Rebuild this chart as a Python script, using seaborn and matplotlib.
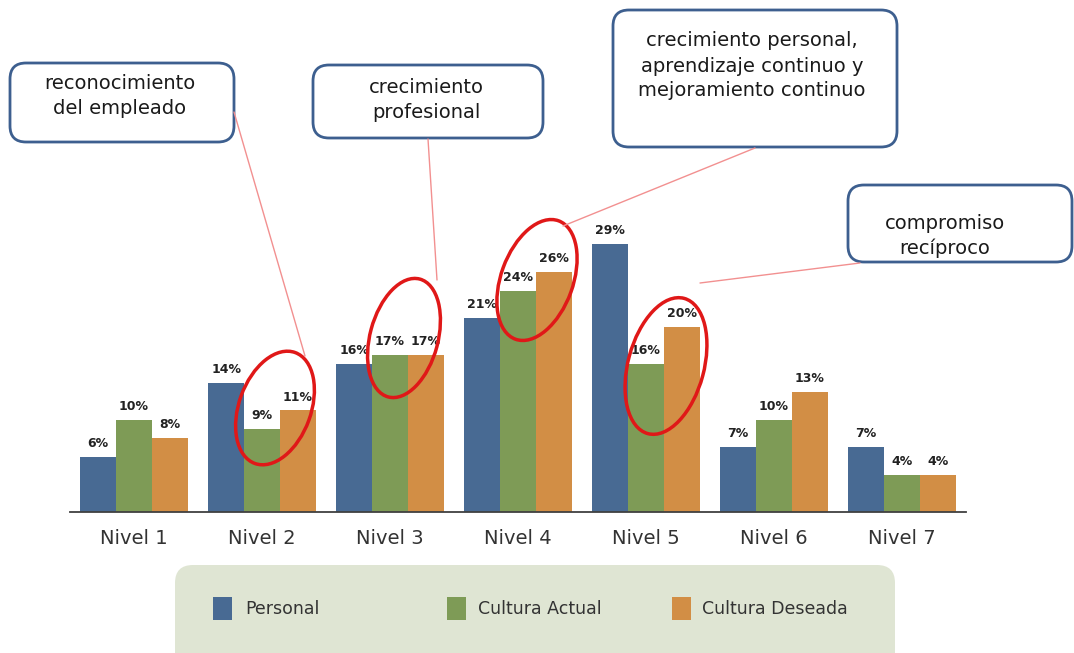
import matplotlib
matplotlib.use("Agg")
import matplotlib.pyplot as plt
from matplotlib.patches import FancyBboxPatch, Ellipse
import numpy as np
import pandas as pd
import seaborn as sns

# chart data
niveles = ["Nivel 1", "Nivel 2", "Nivel 3", "Nivel 4", "Nivel 5", "Nivel 6", "Nivel 7"]
personal = [6, 14, 16, 21, 29, 7, 7]
cultura_actual = [10, 9, 17, 24, 16, 10, 4]
cultura_deseada = [8, 11, 17, 26, 20, 13, 4]
series = ["Personal", "Cultura Actual", "Cultura Deseada"]
colores = ["#486a93", "#7e9b56", "#d28e45"]

callouts = ["reconocimiento\ndel empleado", "crecimiento\nprofesional",
            "crecimiento personal,\naprendizaje continuo y\nmejoramiento continuo",
            "compromiso\nrecíproco"]

df = pd.DataFrame({
    "nivel": niveles * 3,
    "serie": [s for s in series for _ in niveles],
    "valor": personal + cultura_actual + cultura_deseada,
})

sns.set_style("white")
plt.rcParams["font.family"] = ["DejaVu Sans"]

W, H = 1074, 653
fig = plt.figure(figsize=(W / 100, H / 100), dpi=100)
ax = fig.add_axes([70 / W, 141 / H, 896 / W, 323 / H])

sns.barplot(data=df, x="nivel", y="valor", hue="serie", palette=colores,
            width=0.84, gap=0, saturation=1, linewidth=0, ax=ax, legend=False)

for cont in ax.containers:
    ax.bar_label(cont, fmt="%d%%", padding=5, fontsize=9, fontweight="bold",
                 color="#222222")

ax.set_xlim(-0.5, 6.5)
ax.set_ylim(0, 35)
ax.set_xlabel("")
ax.set_ylabel("")
ax.set_yticks([])
for s in ["top", "right", "left"]:
    ax.spines[s].set_visible(False)
ax.spines["bottom"].set_color("#404040")
ax.spines["bottom"].set_linewidth(1.3)
ax.tick_params(axis="x", which="major", length=0, pad=12, labelsize=14, labelcolor="#333333")
ax.set_xticks(np.arange(-0.5, 7, 1), minor=True)
ax.tick_params(axis="x", which="minor", length=4, width=1, color="#404040", direction="out")

# overlay in pixel coordinates for callouts and legend
ov = fig.add_axes([0, 0, 1, 1], zorder=5)
ov.set_xlim(0, W)
ov.set_ylim(H, 0)
ov.axis("off")
ov.patch.set_alpha(0)

# pink connector lines
lineas = [((234, 112), (305, 356)), ((428, 139), (437, 280)),
          ((755, 148), (563, 226)), ((860, 263), (700, 283))]
for (x0, y0), (x1, y1) in lineas:
    ov.plot([x0, x1], [y0, y1], color="#f29090", lw=1)

# callout boxes
cajas = [(10, 63, 224, 79, 120, 96), (313, 65, 230, 73, 426, 100),
         (613, 10, 284, 137, 752, 66), (848, 185, 224, 77, 945, 236)]
for (x, y, w, h, tx, ty), txt in zip(cajas, callouts):
    ov.add_patch(FancyBboxPatch((x + 12, y + 12), w - 24, h - 24,
                                boxstyle="round,pad=12,rounding_size=16",
                                fc="white", ec="#3d5f8f", lw=2))
    ov.text(tx, ty, txt, ha="center", va="center", fontsize=14,
            color="#1a1a1a", linespacing=1.4)

# red ellipses
elipses = [(275, 408, 72, 118, 20), (404, 338, 68, 122, 15),
           (537, 280, 72, 126, 20), (666, 366, 76, 140, 15)]
for cx, cy, w, h, ang in elipses:
    ov.add_patch(Ellipse((cx, cy), w, h, angle=ang, fill=False,
                         ec="#e01818", lw=2.5))

# legend box
ov.add_patch(FancyBboxPatch((190, 580), 690, 90, boxstyle="round,pad=15,rounding_size=18",
                            fc="#dfe5d3", ec="none", zorder=0))
leg_x = [(213, 245), (447, 478), (672, 702)]
for (sx, tx), nombre, col in zip(leg_x, series, colores):
    ov.add_patch(plt.Rectangle((sx, 597), 19, 23, fc=col, ec="none"))
    ov.text(tx, 609, nombre, ha="left", va="center", fontsize=12.5, color="#333333")

fig.savefig("out.png", dpi=100)
